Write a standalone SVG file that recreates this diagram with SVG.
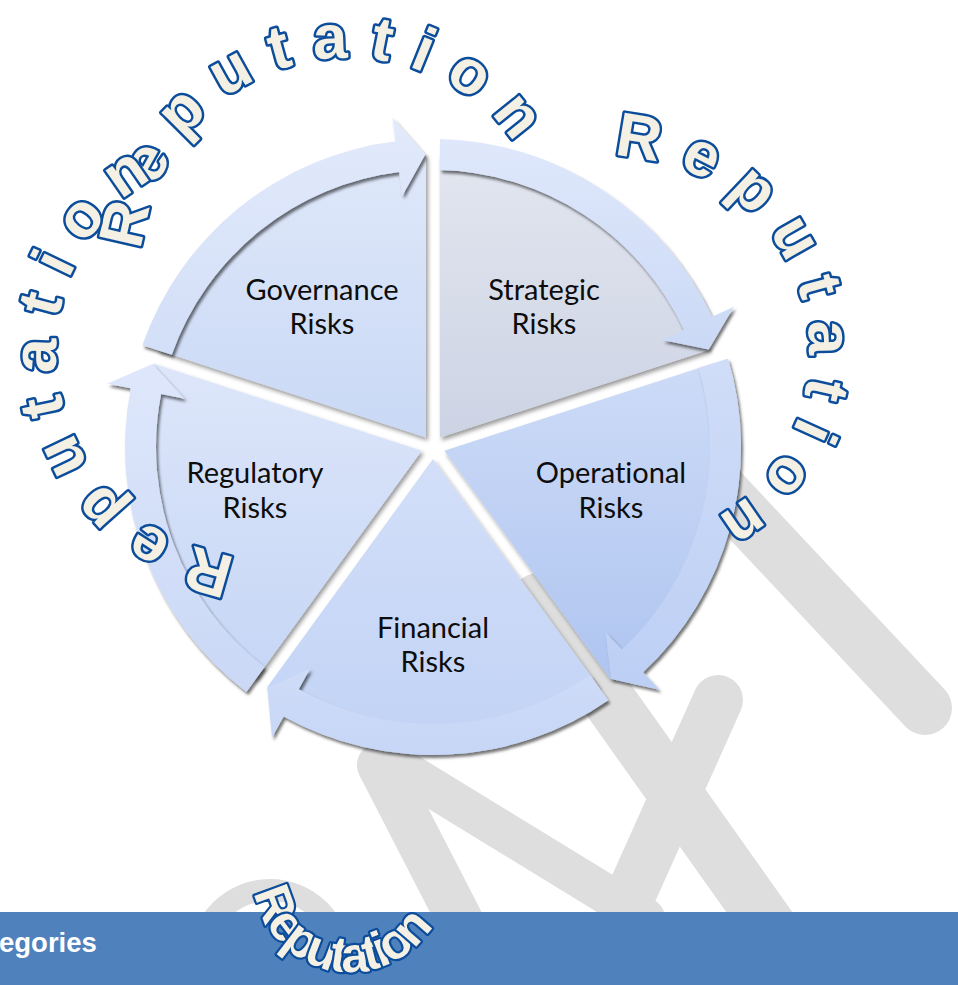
<svg xmlns="http://www.w3.org/2000/svg" width="958" height="985" viewBox="0 0 958 985">
<defs>
<style>
.lbl{font-family:Lato,"Open Sans","Liberation Sans",sans-serif;font-size:29px;fill:#0d0d0d;text-anchor:middle;font-variant-ligatures:none;font-feature-settings:"liga" 0}
.wa{font-family:"Liberation Sans",Arial,sans-serif;font-size:62px;font-weight:bold;fill:#f4f0e3;stroke:#0b4c9b;stroke-width:5;stroke-linejoin:round;paint-order:stroke;letter-spacing:20px}
.wa2{font-family:"Liberation Sans",Arial,sans-serif;font-size:50px;font-weight:bold;fill:#f4f0e3;stroke:#0b4c9b;stroke-width:4.5;stroke-linejoin:round;paint-order:stroke;letter-spacing:-3px}
.wm{stroke:#dedede;stroke-linecap:round;fill:none}
.body{filter:url(#sh)}
.arr{filter:url(#sh2)}
.bar-t{font-family:"Liberation Sans",Arial,sans-serif;font-size:27.5px;font-weight:bold;fill:#ffffff}
</style>
<filter id="sh" x="-10%" y="-10%" width="125%" height="125%"><feDropShadow dx="2" dy="3" stdDeviation="2" flood-color="#000" flood-opacity="0.4"/></filter>
<filter id="sh2" x="-10%" y="-10%" width="125%" height="125%"><feDropShadow dx="2" dy="3" stdDeviation="1.6" flood-color="#000" flood-opacity="0.55"/></filter>
<linearGradient id="g-gov" x1="0" y1="0" x2="0" y2="1"><stop offset="0" stop-color="#dfe8fa"/><stop offset="1" stop-color="#c9d8f5"/></linearGradient>
<linearGradient id="g-str" x1="0" y1="0" x2="0" y2="1"><stop offset="0" stop-color="#e3e6ef"/><stop offset="1" stop-color="#ccd3e4"/></linearGradient>
<linearGradient id="g-ope" x1="0" y1="0" x2="0" y2="1"><stop offset="0" stop-color="#cddbf7"/><stop offset="1" stop-color="#afc5f0"/></linearGradient>
<linearGradient id="g-fin" x1="0" y1="0" x2="0" y2="1"><stop offset="0" stop-color="#d3dff9"/><stop offset="1" stop-color="#c2d3f5"/></linearGradient>
<linearGradient id="g-reg" x1="0" y1="0" x2="0" y2="1"><stop offset="0" stop-color="#dde6fa"/><stop offset="1" stop-color="#c6d6f5"/></linearGradient>
<linearGradient id="a-gov" x1="0" y1="0" x2="0" y2="1"><stop offset="0" stop-color="#e2eafb"/><stop offset="1" stop-color="#d3dff8"/></linearGradient>
<linearGradient id="a-str" x1="0" y1="0" x2="0" y2="1"><stop offset="0" stop-color="#dfe8fb"/><stop offset="1" stop-color="#cbd9f6"/></linearGradient>
<linearGradient id="a-ope" x1="0" y1="0" x2="0" y2="1"><stop offset="0" stop-color="#d0ddf8"/><stop offset="1" stop-color="#bccff4"/></linearGradient>
<linearGradient id="a-fin" x1="0" y1="0" x2="0" y2="1"><stop offset="0" stop-color="#cfdcf8"/><stop offset="1" stop-color="#c6d6f6"/></linearGradient>
<linearGradient id="a-reg" x1="0" y1="0" x2="0" y2="1"><stop offset="0" stop-color="#dee7fb"/><stop offset="1" stop-color="#cad8f6"/></linearGradient>
<path id="p-top" d="M142,264 A206,206 0 0 1 541.6,193.5"/>
<path id="p-right" d="M597,157.7 A195,195 0 0 1 680.7,535.2"/>
<path id="p-left" d="M243.1,556.2 A205,205 0 0 1 190.9,159.4"/>
<path id="p-bot" d="M253.9,888.5 A97,97 0 0 0 445.5,891.8"/>
</defs>

<rect x="0" y="0" width="958" height="985" fill="#ffffff"/>

<g id="watermark">
<line class="wm" x1="700" y1="468" x2="925" y2="708" stroke-width="54"/>
<line class="wm" x1="718" y1="700" x2="615" y2="930" stroke-width="50"/>
<line class="wm" x1="538" y1="600" x2="772" y2="930" stroke-width="54"/>
<line class="wm" x1="380" y1="765" x2="465" y2="930" stroke-width="46"/>
<line class="wm" x1="395" y1="765" x2="645" y2="918" stroke-width="40"/>
<circle class="wm" cx="270" cy="960" r="70" stroke-width="22"/>
</g>

<g id="node-strategic">
<path class="body" fill="url(#g-str)" d="M440,437.4 L440,155.1 A292,292 0 0 1 708.5,350.1 Z"/>
<text class="lbl" x="544" y="300">Strategic</text>
<text class="lbl" x="544" y="334">Risks</text>
</g>
<g id="node-operational">
<path class="body" fill="url(#g-ope)" d="M444.3,450.7 L712.8,363.5 A292,292 0 0 1 610.3,679 Z"/>
<text class="lbl" x="611" y="483">Operational</text>
<text class="lbl" x="611" y="518">Risks</text>
</g>
<g id="node-financial">
<path class="body" fill="url(#g-fin)" d="M433,458.9 L598.9,687.3 A292,292 0 0 1 267.1,687.3 Z"/>
<text class="lbl" x="433" y="638">Financial</text>
<text class="lbl" x="433" y="672">Risks</text>
</g>
<g id="node-regulatory">
<path class="body" fill="url(#g-reg)" d="M421.7,450.7 L255.7,679 A292,292 0 0 1 153.2,363.5 Z"/>
<text class="lbl" x="255" y="483">Regulatory</text>
<text class="lbl" x="255" y="518">Risks</text>
</g>
<g id="node-governance">
<path class="body" fill="url(#g-gov)" d="M426,437.4 L157.5,350.1 A292,292 0 0 1 426,155.1 Z"/>
<text class="lbl" x="322" y="300">Governance</text>
<text class="lbl" x="322" y="334">Risks</text>
</g>

<g id="connectors">
<path class="arr" fill="url(#a-str)" d="M440,139.1 A308,308 0 0 1 712.1,316.8 L733.9,306.7 L708.7,349.4 L662.3,340.1 L684,329.9 A277,277 0 0 0 440,170.1 Z"/>
<path class="arr" fill="url(#a-ope)" d="M728,358.5 A308,308 0 0 1 643.1,672.3 L659.4,689.8 L611.1,679.1 L605.5,632 L621.9,649.6 A277,277 0 0 0 698.5,368.1 Z"/>
<path class="arr" fill="url(#a-fin)" d="M608.3,700.2 A308,308 0 0 1 283.7,716.4 L272,737.4 L267.3,688.1 L310.3,668.3 L298.7,689.3 A277,277 0 0 0 590.1,675.1 Z"/>
<path class="arr" fill="url(#a-reg)" d="M246.4,692 A308,308 0 0 1 130.7,388.2 L107.1,383.7 L152.5,363.9 L184.6,398.7 L161.1,394.1 A277,277 0 0 0 264.6,666.9 Z"/>
<path class="arr" fill="url(#a-gov)" d="M142.3,345.2 A308,308 0 0 1 395.5,141.3 L392.5,117.5 L425.3,154.6 L402.2,195.9 L399.2,172.1 A277,277 0 0 0 171.8,354.8 Z"/>
</g>

<g id="ring-text">
<text class="wa"><textPath href="#p-top" startOffset="13.5">Reputation</textPath></text>
<text class="wa"><textPath href="#p-right" startOffset="16.5">Reputation</textPath></text>
<text class="wa"><textPath href="#p-left" startOffset="6.9">Reputation</textPath></text>
</g>

<g id="footer-bar">
<rect x="0" y="912" width="958" height="73" fill="#4f81bd"/>
<text class="bar-t" x="-1" y="952">egories</text>
</g>

<g id="bottom-word">
<text class="wa2"><textPath href="#p-bot" startOffset="4">Reputation</textPath></text>
</g>
</svg>
